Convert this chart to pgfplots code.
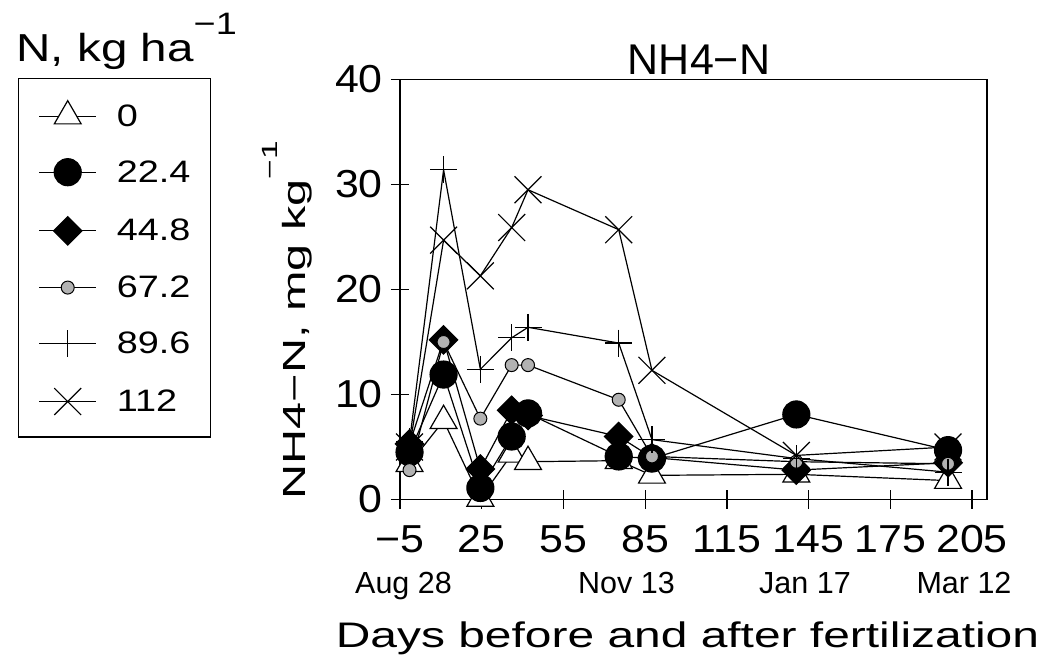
\documentclass[border=0pt]{standalone}
\usepackage{fontspec}
\setmainfont{Liberation Sans}
\newfontfamily\tickfont[FakeStretch=1.1]{Liberation Sans}
\newfontfamily\widefont[FakeStretch=1.22]{Liberation Sans}
\newfontfamily\xlabfont[FakeStretch=1.35]{Liberation Sans}
\newfontfamily\ylabfont[FakeStretch=1.52]{Liberation Sans}
\usepackage{pgfplots}
\pgfplotsset{compat=1.18}

% sampling days and NH4-N values per N rate
\pgfplotstableread{
day   n0   n224  n448  n672  n896  n112
-1.5  3.4  4.5   5.3   2.8   5.5   5.0
11    7.5  11.9  15.2  15.0  31.4  24.7
24.5  0.1  1.1   2.9   7.7   12.4  21.3
36    4.3  6.0   8.5   12.8  15.4  25.9
42    3.6  8.2   8.0   12.8  16.4  29.5
75.3  3.7  4.1   6.0   9.5   14.9  25.7
87.5  2.3  3.9   4.0   4.1   5.7   12.3
140.5 2.4  8.1   2.8   3.6   3.9   4.2
196.2 1.8  4.7   3.5   3.4   2.6   5.0
}\datatable

\begin{document}
\begin{tikzpicture}[x=1pt,y=1pt]
\useasboundingbox (0,0) rectangle (1047,665);
\begin{axis}[
  at={(400pt,165.5pt)}, anchor=south west,
  scale only axis, width=587pt, height=420pt,
  xmin=-5, xmax=210.5, ymin=0, ymax=40,
  axis line style={line width=1.3pt},
  xtick={-5,25,55,85,115,145,175,205},
  xticklabels={−5,25,55,85,115,145,175,205},
  ytick={0,10,20,30,40},
  xtick pos=bottom, ytick pos=left,
  tick align=center, major tick length=18pt,
  tick style={line width=1.3pt, black},
  ticklabel style={font=\tickfont\fontsize{39}{39}\selectfont, inner sep=0pt},
  xticklabel style={anchor=north, yshift=-16.5pt},
  yticklabel style={anchor=east, xshift=-8pt},
  /pgf/number format/assume math mode=true,
  every axis plot/.append style={black, line width=1.2pt},
  legend image code/.code={
    \draw[mark repeat=2,mark phase=2] plot coordinates {(0pt,0pt) (28.5pt,0pt) (57pt,0pt)};},
  legend style={
    at={(axis description cs:-0.6508,1.0036)}, anchor=north west,
    draw=black, line width=1.3pt,
    font=\widefont\fontsize{31}{31}\selectfont,
    inner xsep=20pt, inner ysep=22pt, row sep=31pt, column sep=20pt,
    nodes={inner sep=0pt}},
  legend cell align=left,
]
\addplot[mark=triangle*, mark size=15.5pt, mark options={fill=white, draw=black}]
  table[x=day, y=n0] {\datatable};
\addplot[mark=*, mark size=13.5pt, mark options={fill=black}]
  table[x=day, y=n224] {\datatable};
\addplot[mark=square*, mark size=10pt, mark options={fill=black, rotate=45}]
  table[x=day, y=n448] {\datatable};
\addplot[mark=*, mark size=6.5pt, mark options={fill=black!30, draw=black, line width=1pt}]
  table[x=day, y=n672] {\datatable};
\addplot[mark=+, mark size=13.5pt]
  table[x=day, y=n896] {\datatable};
\addplot[mark=x, mark size=19pt]
  table[x=day, y=n112] {\datatable};
\legend{0,22.4,44.8,67.2,89.6,112}
\end{axis}

\node[anchor=base, font=\fontsize{43}{43}\selectfont] at (699,590) {NH4−N};
\node[anchor=base west, font=\widefont\fontsize{39}{39}\selectfont] at (13,603)
  {N, kg ha\raisebox{27pt}{\fontsize{31}{31}\selectfont −1}};
\node[anchor=base west, rotate=90, font=\ylabfont\fontsize{32}{32}\selectfont] at (305,162)
  {NH4−N, mg kg\raisebox{28pt}{\fontsize{22}{22}\selectfont −1}};
\node[anchor=base, font=\fontsize{30.5}{30.5}\selectfont] at (403.5,72) {Aug 28};
\node[anchor=base, font=\fontsize{30.5}{30.5}\selectfont] at (626.5,72) {Nov 13};
\node[anchor=base, font=\fontsize{30.5}{30.5}\selectfont] at (805,72) {Jan 17};
\node[anchor=base, font=\fontsize{30.5}{30.5}\selectfont] at (964,72) {Mar 12};
\node[anchor=base, font=\xlabfont\fontsize{35.5}{35.5}\selectfont] at (687.5,18)
  {Days before and after fertilization};
\end{tikzpicture}
\end{document}
